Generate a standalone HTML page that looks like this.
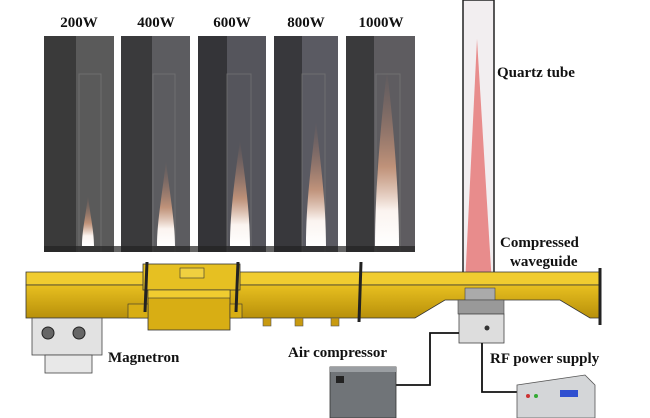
<!DOCTYPE html>
<html><head><meta charset="utf-8"><style>
html,body{margin:0;padding:0;background:#fff;}
svg{display:block;}
text{font-family:"Liberation Serif",serif;font-weight:bold;fill:#111;}
</style></head><body>
<svg width="650" height="418" viewBox="0 0 650 418" xmlns="http://www.w3.org/2000/svg">
<defs>
<linearGradient id="fl" x1="0" y1="1" x2="0" y2="0">
<stop offset="0" stop-color="#fff"/><stop offset="0.2" stop-color="#fbf4f0"/><stop offset="0.45" stop-color="#d8a080" stop-opacity="0.8"/><stop offset="1" stop-color="#a07060" stop-opacity="0"/>
</linearGradient>
<linearGradient id="gold" x1="0" y1="0" x2="0" y2="1">
<stop offset="0" stop-color="#e8c020"/><stop offset="1" stop-color="#b8900a"/>
</linearGradient>
</defs>
<g font-size="15">
<text x="79" y="27" text-anchor="middle">200W</text>
<text x="156" y="27" text-anchor="middle">400W</text>
<text x="232" y="27" text-anchor="middle">600W</text>
<text x="306" y="27" text-anchor="middle">800W</text>
<text x="381" y="27" text-anchor="middle">1000W</text>
</g>
<!-- panels -->
<g>
<rect x="44" y="36" width="70" height="216" fill="#5a5a5a"/><rect x="44" y="36" width="32" height="216" fill="#3a3a3a"/>
<rect x="121" y="36" width="69" height="216" fill="#5c5c60"/><rect x="121" y="36" width="31" height="216" fill="#3a3a3c"/>
<rect x="198" y="36" width="68" height="216" fill="#55555c"/><rect x="198" y="36" width="29" height="216" fill="#343438"/>
<rect x="274" y="36" width="64" height="216" fill="#5a5a62"/><rect x="274" y="36" width="28" height="216" fill="#38383c"/>
<rect x="346" y="36" width="69" height="216" fill="#5e5c60"/><rect x="346" y="36" width="28" height="216" fill="#3a3a3c"/>
<g stroke="#777" stroke-width="1" fill="none" opacity="0.7">
<polyline points="79,252 79,74 101,74 101,252"/>
<polyline points="153,252 153,74 175,74 175,252"/>
<polyline points="227,252 227,74 251,74 251,252"/>
<polyline points="302,252 302,74 325,74 325,252"/>
<polyline points="376,252 376,74 400,74 400,252"/>
</g>
<path d="M82,246 C82,230 86,215 88,195 C90,215 94,230 94,246 Z" fill="url(#fl)"/>
<path d="M157,246 C157,220 163,190 166,160 C169,190 175,220 175,246 Z" fill="url(#fl)"/>
<path d="M230,246 C230,210 236,170 240,140 C244,170 250,210 250,246 Z" fill="url(#fl)"/>
<path d="M306,246 C306,200 312,160 316,120 C320,160 326,200 326,246 Z" fill="url(#fl)"/>
<path d="M375,246 C375,190 381,120 387,70 C393,120 399,190 399,246 Z" fill="url(#fl)"/>
<rect x="44" y="246" width="371" height="6" fill="#222" opacity="0.7"/>
</g>
<!-- quartz tube -->
<rect x="463" y="0" width="31" height="290" fill="#f2eef0" stroke="#222" stroke-width="1.5"/>
<polygon points="477,39 465,285 492,285" fill="#e88c8c"/>
<!-- waveguide -->
<polygon points="26,272 600,272 600,285 26,285" fill="#f0cc30" stroke="#333" stroke-width="0.8"/>
<polygon points="26,285 600,285 600,318 590,318 560,300 445,300 415,318 26,318" fill="url(#gold)" stroke="#333" stroke-width="0.8"/>
<rect x="143" y="264" width="97" height="26" fill="#e6c022" stroke="#333" stroke-width="0.8"/>
<rect x="180" y="268" width="24" height="10" fill="#f0d040" stroke="#333" stroke-width="0.6"/>
<rect x="148" y="290" width="82" height="40" fill="#d8ae14" stroke="#333" stroke-width="0.8"/>
<rect x="148" y="290" width="82" height="8" fill="#f0cc30" stroke="#333" stroke-width="0.6"/>
<rect x="128" y="304" width="20" height="14" fill="#d8ae14" stroke="#333" stroke-width="0.6"/>
<rect x="230" y="304" width="12" height="14" fill="#d8ae14" stroke="#333" stroke-width="0.6"/>
<g stroke="#222" stroke-width="3">
<line x1="147" y1="262" x2="145" y2="312"/><line x1="238" y1="262" x2="236" y2="312"/>
<line x1="361" y1="262" x2="359" y2="322"/><line x1="600" y1="268" x2="600" y2="325"/>
</g>
<g fill="#c89a10" stroke="#555" stroke-width="0.6">
<rect x="263" y="318" width="8" height="8"/><rect x="295" y="318" width="8" height="8"/><rect x="331" y="318" width="8" height="8"/>
</g>
<!-- magnetron -->
<rect x="32" y="318" width="70" height="37" fill="#e2e2e2" stroke="#444" stroke-width="0.8"/>
<rect x="45" y="355" width="47" height="18" fill="#e8e8e8" stroke="#444" stroke-width="0.8"/>
<circle cx="48" cy="333" r="6" fill="#666" stroke="#222"/><circle cx="79" cy="333" r="6" fill="#666" stroke="#222"/>
<!-- cylinder -->
<rect x="465" y="288" width="30" height="12" fill="#aaa" stroke="#444" stroke-width="0.6"/>
<rect x="458" y="300" width="46" height="14" fill="#999" stroke="#444" stroke-width="0.6"/>
<rect x="459" y="314" width="45" height="29" fill="#ddd" stroke="#444" stroke-width="0.8"/>
<circle cx="487" cy="328" r="2.5" fill="#333"/>
<!-- lines -->
<polyline points="459,333 430,333 430,385 396,385" fill="none" stroke="#111" stroke-width="1.8"/>
<polyline points="482,343 482,392 517,392" fill="none" stroke="#111" stroke-width="1.8"/>
<!-- air compressor -->
<rect x="330" y="367" width="66" height="51" fill="#707478" stroke="#333" stroke-width="0.8"/>
<rect x="330" y="367" width="66" height="5" fill="#9a9ea2"/>
<rect x="336" y="376" width="8" height="7" fill="#222"/>
<!-- RF supply -->
<polygon points="517,385 585,375 595,385 595,418 517,418" fill="#d4d6d8" stroke="#555" stroke-width="0.8"/>
<rect x="560" y="390" width="18" height="7" fill="#3050d0"/>
<circle cx="528" cy="396" r="2" fill="#c33"/><circle cx="536" cy="396" r="2" fill="#3a3"/>
<!-- labels -->
<g font-size="15">
<text x="497" y="77">Quartz tube</text>
<text x="500" y="247">Compressed</text>
<text x="510" y="266">waveguide</text>
<text x="108" y="362">Magnetron</text>
<text x="288" y="357">Air compressor</text>
<text x="490" y="363">RF power supply</text>
</g>
</svg>
</body></html>
